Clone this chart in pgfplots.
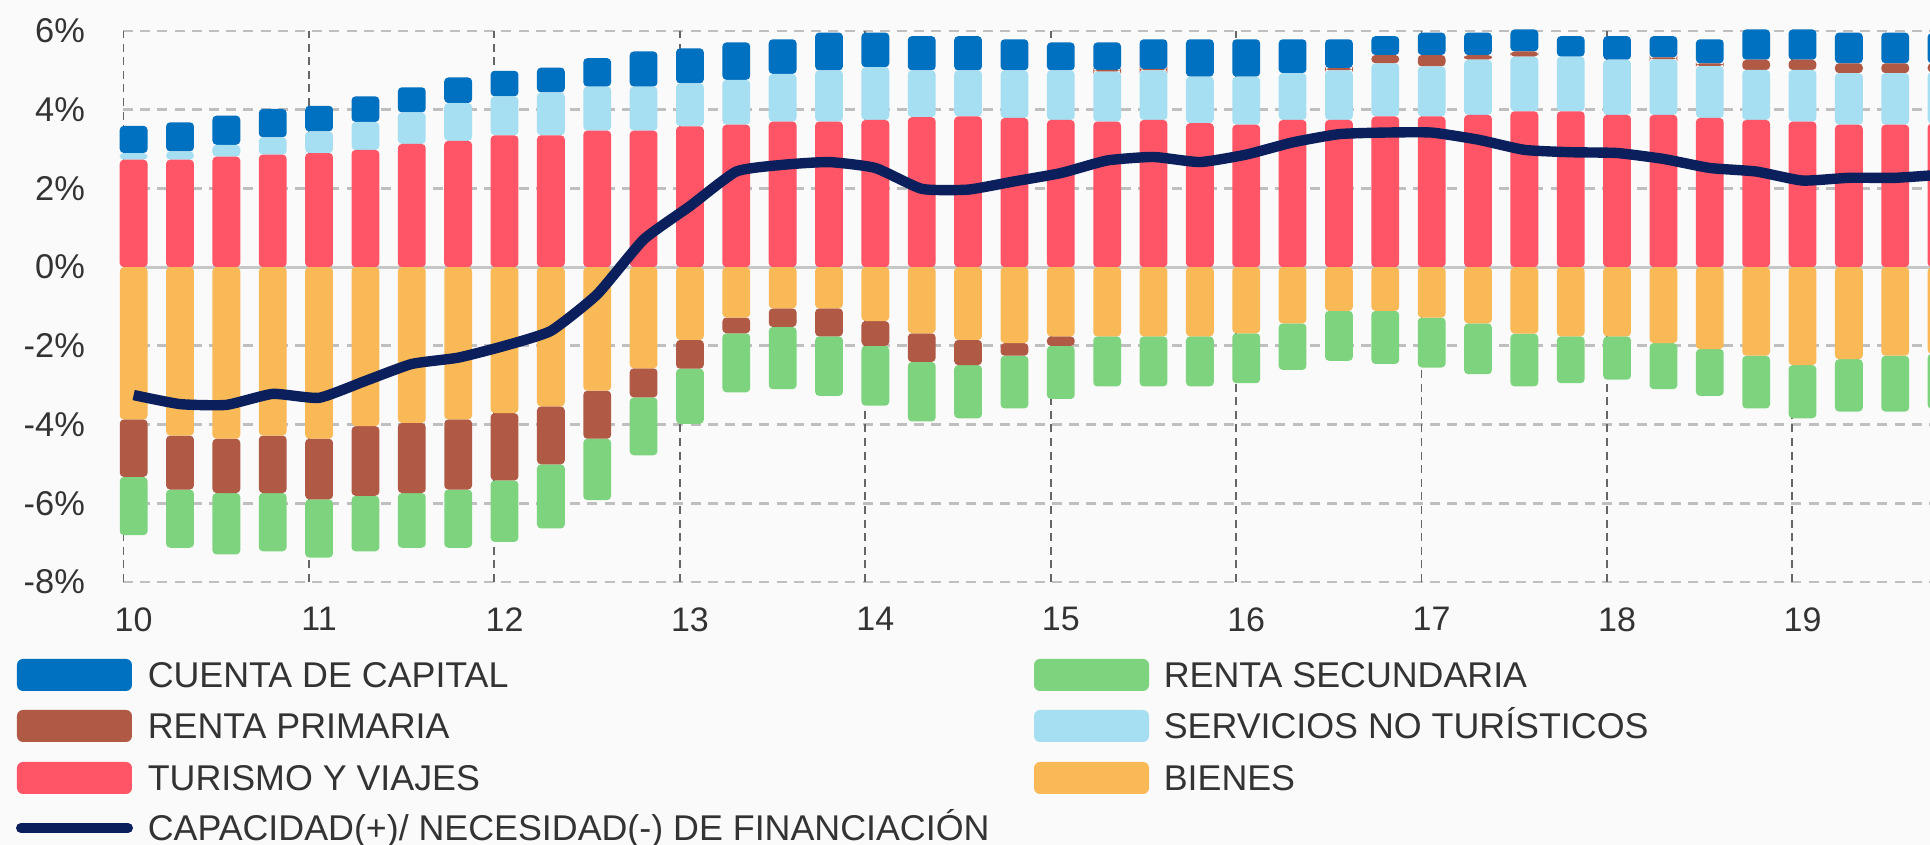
\documentclass[border=0pt]{standalone}
\usepackage{fontspec}
\setmainfont{Liberation Sans}
\usepackage{pgfplots}
\pgfplotsset{compat=1.18}
\usepackage{pgfplotstable}

\definecolor{capc}{HTML}{0070C0}
\definecolor{rprim}{HTML}{B05A45}
\definecolor{turc}{HTML}{FF5566}
\definecolor{rsecc}{HTML}{7ED47E}
\definecolor{servc}{HTML}{A6DEF2}
\definecolor{bienc}{HTML}{F9B957}
\definecolor{linec}{HTML}{0A1F5C}
\definecolor{bgc}{HTML}{FAFAFA}
\definecolor{txt}{HTML}{333333}

\pgfplotstableread{
i  tur  serv rpp  cap  bien  rpn   rsec  cnf
0  2.73 0.17 0    0.69 -3.87 -1.46 -1.48 -3.25
1  2.73 0.21 0    0.74 -4.28 -1.37 -1.48 -3.48
2  2.81 0.30 0    0.74 -4.36 -1.38 -1.56 -3.50
3  2.86 0.44 0    0.72 -4.28 -1.46 -1.48 -3.22
4  2.90 0.55 0    0.65 -4.36 -1.54 -1.48 -3.32
5  2.98 0.71 0    0.65 -4.04 -1.77 -1.41 -2.89
6  3.13 0.80 0    0.64 -3.96 -1.78 -1.39 -2.46
7  3.21 0.96 0    0.65 -3.87 -1.78 -1.48 -2.30
8  3.35 0.99 0    0.65 -3.71 -1.71 -1.56 -2.00
9  3.35 1.09 0    0.63 -3.54 -1.47 -1.63 -1.62
10 3.47 1.12 0    0.72 -3.14 -1.22 -1.56 -0.69
11 3.47 1.12 0    0.89 -2.57 -0.74 -1.47 0.70
12 3.58 1.09 0    0.89 -1.85 -0.73 -1.40 1.55
13 3.62 1.14 0    0.95 -1.28 -0.40 -1.50 2.43
14 3.70 1.21 0    0.88 -1.05 -0.47 -1.58 2.60
15 3.70 1.30 0    0.96 -1.05 -0.71 -1.51 2.67
16 3.74 1.34 0    0.88 -1.37 -0.63 -1.52 2.52
17 3.81 1.19 0    0.87 -1.68 -0.73 -1.51 1.99
18 3.83 1.17 0    0.87 -1.85 -0.64 -1.35 1.97
19 3.79 1.21 0    0.79 -1.93 -0.32 -1.34 2.18
20 3.74 1.26 0    0.71 -1.76 -0.24 -1.35 2.39
21 3.70 1.27 0.04 0.70 -1.76 0     -1.27 2.71
22 3.74 1.26 0.03 0.76 -1.76 0     -1.27 2.80
23 3.66 1.18 0    0.95 -1.76 0     -1.27 2.67
24 3.62 1.22 0    0.95 -1.68 0     -1.27 2.86
25 3.74 1.19 0    0.86 -1.43 0     -1.18 3.17
26 3.74 1.26 0.06 0.73 -1.11 0     -1.27 3.38
27 3.83 1.35 0.21 0.48 -1.11 0     -1.35 3.42
28 3.83 1.27 0.29 0.57 -1.28 0     -1.27 3.42
29 3.87 1.40 0.12 0.57 -1.43 0     -1.29 3.24
30 3.96 1.39 0.13 0.56 -1.69 0     -1.34 2.98
31 3.96 1.39 0    0.52 -1.76 0     -1.19 2.92
32 3.87 1.40 0    0.60 -1.76 0     -1.10 2.90
33 3.87 1.41 0.05 0.54 -1.93 0     -1.17 2.75
34 3.79 1.32 0.07 0.61 -2.08 0     -1.19 2.52
35 3.74 1.27 0.26 0.77 -2.25 0     -1.34 2.43
36 3.70 1.31 0.26 0.77 -2.49 0     -1.35 2.20
37 3.62 1.31 0.25 0.78 -2.34 0     -1.33 2.27
38 3.62 1.31 0.25 0.78 -2.25 0     -1.42 2.27
39 3.65 1.30 0.23 0.77 -2.20 0     -1.40 2.35
}\data

\pgfplotsset{
  base/.style={
    scale only axis, width=451.75pt, height=137.75pt,
    at={(0pt,0pt)}, anchor=south west,
    xmin=-0.23, xmax=38.75, ymin=-8, ymax=6,
    axis line style={draw=none},
    major tick length=0pt,
    clip=false,
  },
  barsty/.style={fill=#1, draw=none, rounded corners=1pt},
}

\begin{document}
\begin{tikzpicture}
\path[use as bounding box, fill=bgc] (-30.75pt,-65.75pt) rectangle (451.75pt,145.5pt);

% axis 1: grid, ticks, positive stack
\begin{axis}[base, ybar stacked, bar width=0.6,
  xtick={0,4,8,12,16,20,24,28,32,36},
  xticklabels={10,11,12,13,14,15,16,17,18,19},
  xticklabel style={font=\fontsize{8.5}{10}\selectfont, text=txt, yshift=-2.8pt},
  ytick={-8,-6,-4,-2,2,4,6},
  yticklabels={-8\%,-6\%,-4\%,-2\%,2\%,4\%,6\%},
  yticklabel style={font=\fontsize{8.6}{10}\selectfont, text=txt, xshift=-6pt},
  ymajorgrids=true,
  major grid style={draw=black!25, line width=0.7pt, dash pattern=on 2.5pt off 1.8pt},
  extra y ticks={0}, extra y tick labels={0\%},
  extra y tick style={ymajorgrids=true, major grid style={draw=black!22, line width=0.7pt, solid}},
  extra x ticks={-0.22,3.78,7.78,11.78,15.78,19.78,23.78,27.78,31.78,35.78},
  extra x tick labels={},
  extra x tick style={xmajorgrids=true, major grid style={draw=black!60, line width=0.45pt, dash pattern=on 2pt off 1.4pt}},
]
\addplot[barsty=turc] table[x=i, y=tur] {\data};
\addplot[barsty=servc] table[x=i, y=serv] {\data};
\addplot[barsty=rprim] table[x=i, y=rpp] {\data};
\addplot[barsty=capc] table[x=i, y=cap] {\data};
\end{axis}

% axis 2: negative stack
\begin{axis}[base, hide axis, ybar stacked, bar width=0.6]
\addplot[barsty=bienc] table[x=i, y=bien] {\data};
\addplot[barsty=rprim] table[x=i, y=rpn] {\data};
\addplot[barsty=rsecc] table[x=i, y=rsec] {\data};
\end{axis}

% axis 3: line
\begin{axis}[base, hide axis]
\addplot[linec, line width=2.6pt, no marks, smooth, tension=0.3, line join=round] table[x=i, y=cnf] {\data};
\end{axis}

% legend
\tikzset{legtxt/.style={anchor=west, inner sep=0pt, text height=6.3pt, text depth=0pt, text=txt, font=\fontsize{8.95}{10}\selectfont}}
\fill[capc, rounded corners=1.5pt] (-26.5pt,-27.25pt) rectangle (2.25pt,-19.25pt);
\node[legtxt] at (6pt,-23.25pt) {CUENTA DE CAPITAL};
\fill[rsecc, rounded corners=1.5pt] (227.75pt,-27.25pt) rectangle (256.5pt,-19.25pt);
\node[legtxt] at (260pt,-23.25pt) {RENTA SECUNDARIA};
\fill[rprim, rounded corners=1.5pt] (-26.5pt,-40pt) rectangle (2.25pt,-32pt);
\node[legtxt] at (6pt,-36pt) {RENTA PRIMARIA};
\fill[servc, rounded corners=1.5pt] (227.75pt,-40pt) rectangle (256.5pt,-32pt);
\node[legtxt] at (260pt,-36pt) {SERVICIOS NO TURÍSTICOS};
\fill[turc, rounded corners=1.5pt] (-26.5pt,-53pt) rectangle (2.25pt,-45pt);
\node[legtxt] at (6pt,-49pt) {TURISMO Y VIAJES};
\fill[bienc, rounded corners=1.5pt] (227.75pt,-53pt) rectangle (256.5pt,-45pt);
\node[legtxt] at (260pt,-49pt) {BIENES};
\draw[linec, line width=2.5pt, line cap=round] (-25.5pt,-61.5pt) -- (1.25pt,-61.5pt);
\node[legtxt] at (6pt,-61.5pt) {CAPACIDAD(+)/ NECESIDAD(-) DE FINANCIACIÓN};
\end{tikzpicture}
\end{document}
